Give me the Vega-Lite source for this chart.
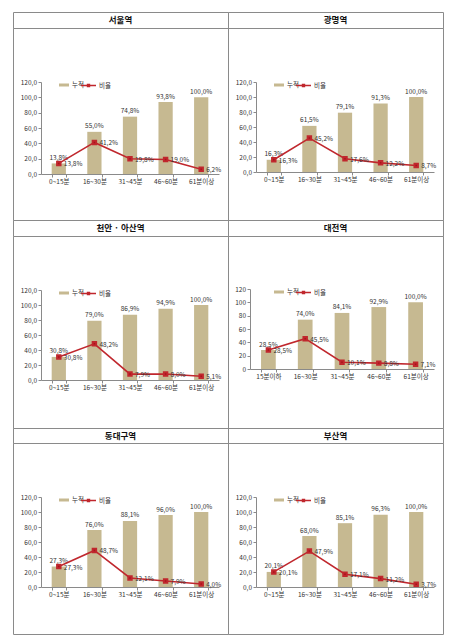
{
  "$schema": "https://vega.github.io/schema/vega-lite/v6.json",
  "background": "white",
  "padding": {"left": 12, "top": 11, "right": 0, "bottom": 0},
  "columns": 2,
  "spacing": 0,
  "bounds": "flush",
  "datasets": {
    "seoul": [
      {"band": "0~15분", "cum": 13.8, "ratio": 13.8},
      {"band": "16~30분", "cum": 55.0, "ratio": 41.2},
      {"band": "31~45분", "cum": 74.8, "ratio": 19.8},
      {"band": "46~60분", "cum": 93.8, "ratio": 19.0},
      {"band": "61분이상", "cum": 100.0, "ratio": 6.2}
    ],
    "gwangmyeong": [
      {"band": "0~15분", "cum": 16.3, "ratio": 16.3},
      {"band": "16~30분", "cum": 61.5, "ratio": 45.2},
      {"band": "31~45분", "cum": 79.1, "ratio": 17.6},
      {"band": "46~60분", "cum": 91.3, "ratio": 12.2},
      {"band": "61분이상", "cum": 100.0, "ratio": 8.7}
    ],
    "cheonan": [
      {"band": "0~15분", "cum": 30.8, "ratio": 30.8},
      {"band": "16~30분", "cum": 79.0, "ratio": 48.2},
      {"band": "31~45분", "cum": 86.9, "ratio": 7.9},
      {"band": "46~60분", "cum": 94.9, "ratio": 8.0},
      {"band": "61분이상", "cum": 100.0, "ratio": 5.1}
    ],
    "daejeon": [
      {"band": "15분이하", "cum": 28.5, "ratio": 28.5},
      {"band": "16~30분", "cum": 74.0, "ratio": 45.5},
      {"band": "31~45분", "cum": 84.1, "ratio": 10.1},
      {"band": "46~60분", "cum": 92.9, "ratio": 8.8},
      {"band": "61분이상", "cum": 100.0, "ratio": 7.1}
    ],
    "dongdaegu": [
      {"band": "0~15분", "cum": 27.3, "ratio": 27.3},
      {"band": "16~30분", "cum": 76.0, "ratio": 48.7},
      {"band": "31~45분", "cum": 88.1, "ratio": 12.1},
      {"band": "46~60분", "cum": 96.0, "ratio": 7.9},
      {"band": "61분이상", "cum": 100.0, "ratio": 4.0}
    ],
    "busan": [
      {"band": "0~15분", "cum": 20.1, "ratio": 20.1},
      {"band": "16~30분", "cum": 68.0, "ratio": 47.9},
      {"band": "31~45분", "cum": 85.1, "ratio": 17.1},
      {"band": "46~60분", "cum": 96.3, "ratio": 11.2},
      {"band": "61분이상", "cum": 100.0, "ratio": 3.7}
    ]
  },
  "resolve": {"scale": {"x": "independent", "y": "independent", "fill": "independent", "stroke": "independent"}, "legend": {"fill": "independent", "stroke": "independent"}, "axis": {"x": "independent", "y": "independent"}},
  "concat": [
    {"width": 215, "height": 16, "data": {"values": [{"station": "서울역"}]}, "mark": {"type": "text", "fontSize": 8.5, "fontWeight": "bold", "color": "#111"}, "encoding": {"text": {"field": "station"}, "x": {"datum": 0.5, "type": "quantitative", "scale": {"domain": [0, 1]}, "axis": null}, "y": {"datum": 0.5, "type": "quantitative", "scale": {"domain": [0, 1]}, "axis": null}}},
    {"width": 215, "height": 16, "data": {"values": [{"station": "광명역"}]}, "mark": {"type": "text", "fontSize": 8.5, "fontWeight": "bold", "color": "#111"}, "encoding": {"text": {"field": "station"}, "x": {"datum": 0.5, "type": "quantitative", "scale": {"domain": [0, 1]}, "axis": null}, "y": {"datum": 0.5, "type": "quantitative", "scale": {"domain": [0, 1]}, "axis": null}}},
    {
      "width": 215, "height": 192, "data": {"name": "seoul"},
      "encoding": {"x": {"field": "band", "type": "nominal", "sort": null, "title": null, "scale": {"range": [28, 206], "paddingInner": 0.6, "paddingOuter": 0.3}, "axis": {"offset": -46, "tickBand": "extent", "labelAngle": 0}}},
      "layer": [
        {"mark": {"type": "bar"}, "encoding": {
          "y": {"field": "cum", "type": "quantitative", "title": null, "scale": {"domain": [0, 120], "range": [146, 54], "nice": false}, "axis": {"offset": -28, "values": [0, 20, 40, 60, 80, 100, 120], "labelOverlap": false, "labelExpr": "replace(format(datum.value,'.1f'),'.',',')"}},
          "fill": {"datum": "누적", "scale": {"range": ["#C6B991"]}, "legend": {"legendX": 45, "legendY": 51, "symbolType": "M-1,-0.3H1V0.3H-1Z", "symbolSize": 100}}}},
        {"mark": {"type": "text", "baseline": "bottom", "dy": -2.5, "fontSize": 6.5, "color": "#333", "text": {"expr": "replace(format(datum.cum,'.1f'),'.',',') + '%'"}}, "encoding": {"y": {"field": "cum", "type": "quantitative", "title": null, "scale": {"domain": [0, 120], "range": [146, 54], "nice": false}, "axis": {"offset": -28, "values": [0, 20, 40, 60, 80, 100, 120], "labelOverlap": false, "labelExpr": "replace(format(datum.value,'.1f'),'.',',')"}}}},
        {"mark": {"type": "line", "strokeWidth": 1.6, "point": {"shape": "square", "size": 12, "filled": true, "color": "#A8121A"}}, "encoding": {
          "y": {"field": "ratio", "type": "quantitative", "title": null, "scale": {"domain": [0, 120], "range": [146, 54], "nice": false}, "axis": {"offset": -28, "values": [0, 20, 40, 60, 80, 100, 120], "labelOverlap": false, "labelExpr": "replace(format(datum.value,'.1f'),'.',',')"}},
          "stroke": {"datum": "비율", "scale": {"range": ["#C0272D"]}, "legend": {"legendX": 67, "legendY": 49, "symbolType": "M-1,0H1M-0.12,-0.12H0.12V0.12H-0.12Z", "symbolSize": 225, "symbolStrokeWidth": 1.6, "symbolFillColor": "#A8121A"}}}},
        {"mark": {"type": "text", "align": "left", "baseline": "middle", "dx": 5, "dy": 1, "fontSize": 6.5, "color": "#333", "text": {"expr": "replace(format(datum.ratio,'.1f'),'.',',') + '%'"}}, "encoding": {"y": {"field": "ratio", "type": "quantitative", "title": null, "scale": {"domain": [0, 120], "range": [146, 54], "nice": false}, "axis": {"offset": -28, "values": [0, 20, 40, 60, 80, 100, 120], "labelOverlap": false, "labelExpr": "replace(format(datum.value,'.1f'),'.',',')"}}}}
      ]
    },
    {
      "width": 215, "height": 192, "data": {"name": "gwangmyeong"},
      "encoding": {"x": {"field": "band", "type": "nominal", "sort": null, "title": null, "scale": {"range": [28, 206], "paddingInner": 0.6, "paddingOuter": 0.3}, "axis": {"offset": -48, "tickBand": "extent", "labelAngle": 0}}},
      "layer": [
        {"mark": {"type": "bar"}, "encoding": {
          "y": {"field": "cum", "type": "quantitative", "title": null, "scale": {"domain": [0, 120], "range": [144, 54], "nice": false}, "axis": {"offset": -28, "values": [0, 20, 40, 60, 80, 100, 120], "labelOverlap": false, "labelExpr": "replace(format(datum.value,'.1f'),'.',',')"}},
          "fill": {"datum": "누적", "scale": {"range": ["#C6B991"]}, "legend": {"legendX": 45, "legendY": 51, "symbolType": "M-1,-0.3H1V0.3H-1Z", "symbolSize": 100}}}},
        {"mark": {"type": "text", "baseline": "bottom", "dy": -2.5, "fontSize": 6.5, "color": "#333", "text": {"expr": "replace(format(datum.cum,'.1f'),'.',',') + '%'"}}, "encoding": {"y": {"field": "cum", "type": "quantitative", "title": null, "scale": {"domain": [0, 120], "range": [144, 54], "nice": false}, "axis": {"offset": -28, "values": [0, 20, 40, 60, 80, 100, 120], "labelOverlap": false, "labelExpr": "replace(format(datum.value,'.1f'),'.',',')"}}}},
        {"mark": {"type": "line", "strokeWidth": 1.6, "point": {"shape": "square", "size": 12, "filled": true, "color": "#A8121A"}}, "encoding": {
          "y": {"field": "ratio", "type": "quantitative", "title": null, "scale": {"domain": [0, 120], "range": [144, 54], "nice": false}, "axis": {"offset": -28, "values": [0, 20, 40, 60, 80, 100, 120], "labelOverlap": false, "labelExpr": "replace(format(datum.value,'.1f'),'.',',')"}},
          "stroke": {"datum": "비율", "scale": {"range": ["#C0272D"]}, "legend": {"legendX": 67, "legendY": 49, "symbolType": "M-1,0H1M-0.12,-0.12H0.12V0.12H-0.12Z", "symbolSize": 225, "symbolStrokeWidth": 1.6, "symbolFillColor": "#A8121A"}}}},
        {"mark": {"type": "text", "align": "left", "baseline": "middle", "dx": 5, "dy": 1, "fontSize": 6.5, "color": "#333", "text": {"expr": "replace(format(datum.ratio,'.1f'),'.',',') + '%'"}}, "encoding": {"y": {"field": "ratio", "type": "quantitative", "title": null, "scale": {"domain": [0, 120], "range": [144, 54], "nice": false}, "axis": {"offset": -28, "values": [0, 20, 40, 60, 80, 100, 120], "labelOverlap": false, "labelExpr": "replace(format(datum.value,'.1f'),'.',',')"}}}}
      ]
    },
    {"width": 215, "height": 16, "data": {"values": [{"station": "천안 · 아산역"}]}, "mark": {"type": "text", "fontSize": 8.5, "fontWeight": "bold", "color": "#111"}, "encoding": {"text": {"field": "station"}, "x": {"datum": 0.5, "type": "quantitative", "scale": {"domain": [0, 1]}, "axis": null}, "y": {"datum": 0.5, "type": "quantitative", "scale": {"domain": [0, 1]}, "axis": null}}},
    {"width": 215, "height": 16, "data": {"values": [{"station": "대전역"}]}, "mark": {"type": "text", "fontSize": 8.5, "fontWeight": "bold", "color": "#111"}, "encoding": {"text": {"field": "station"}, "x": {"datum": 0.5, "type": "quantitative", "scale": {"domain": [0, 1]}, "axis": null}, "y": {"datum": 0.5, "type": "quantitative", "scale": {"domain": [0, 1]}, "axis": null}}},
    {
      "width": 215, "height": 192, "data": {"name": "cheonan"},
      "encoding": {"x": {"field": "band", "type": "nominal", "sort": null, "title": null, "scale": {"range": [28, 206], "paddingInner": 0.6, "paddingOuter": 0.3}, "axis": {"offset": -48, "tickBand": "extent", "labelAngle": 0}}},
      "layer": [
        {"mark": {"type": "bar"}, "encoding": {
          "y": {"field": "cum", "type": "quantitative", "title": null, "scale": {"domain": [0, 120], "range": [144, 54], "nice": false}, "axis": {"offset": -28, "values": [0, 20, 40, 60, 80, 100, 120], "labelOverlap": false, "labelExpr": "replace(format(datum.value,'.1f'),'.',',')"}},
          "fill": {"datum": "누적", "scale": {"range": ["#C6B991"]}, "legend": {"legendX": 45, "legendY": 51, "symbolType": "M-1,-0.3H1V0.3H-1Z", "symbolSize": 100}}}},
        {"mark": {"type": "text", "baseline": "bottom", "dy": -2.5, "fontSize": 6.5, "color": "#333", "text": {"expr": "replace(format(datum.cum,'.1f'),'.',',') + '%'"}}, "encoding": {"y": {"field": "cum", "type": "quantitative", "title": null, "scale": {"domain": [0, 120], "range": [144, 54], "nice": false}, "axis": {"offset": -28, "values": [0, 20, 40, 60, 80, 100, 120], "labelOverlap": false, "labelExpr": "replace(format(datum.value,'.1f'),'.',',')"}}}},
        {"mark": {"type": "line", "strokeWidth": 1.6, "point": {"shape": "square", "size": 12, "filled": true, "color": "#A8121A"}}, "encoding": {
          "y": {"field": "ratio", "type": "quantitative", "title": null, "scale": {"domain": [0, 120], "range": [144, 54], "nice": false}, "axis": {"offset": -28, "values": [0, 20, 40, 60, 80, 100, 120], "labelOverlap": false, "labelExpr": "replace(format(datum.value,'.1f'),'.',',')"}},
          "stroke": {"datum": "비율", "scale": {"range": ["#C0272D"]}, "legend": {"legendX": 67, "legendY": 49, "symbolType": "M-1,0H1M-0.12,-0.12H0.12V0.12H-0.12Z", "symbolSize": 225, "symbolStrokeWidth": 1.6, "symbolFillColor": "#A8121A"}}}},
        {"mark": {"type": "text", "align": "left", "baseline": "middle", "dx": 5, "dy": 1, "fontSize": 6.5, "color": "#333", "text": {"expr": "replace(format(datum.ratio,'.1f'),'.',',') + '%'"}}, "encoding": {"y": {"field": "ratio", "type": "quantitative", "title": null, "scale": {"domain": [0, 120], "range": [144, 54], "nice": false}, "axis": {"offset": -28, "values": [0, 20, 40, 60, 80, 100, 120], "labelOverlap": false, "labelExpr": "replace(format(datum.value,'.1f'),'.',',')"}}}}
      ]
    },
    {
      "width": 215, "height": 192, "data": {"name": "daejeon"},
      "encoding": {"x": {"field": "band", "type": "nominal", "sort": null, "title": null, "scale": {"range": [22, 206], "paddingInner": 0.6, "paddingOuter": 0.3}, "axis": {"offset": -59, "tickBand": "extent", "labelAngle": 0}}},
      "layer": [
        {"mark": {"type": "bar"}, "encoding": {
          "y": {"field": "cum", "type": "quantitative", "title": null, "scale": {"domain": [0, 120], "range": [133, 53], "nice": false}, "axis": {"offset": -22, "values": [0, 20, 40, 60, 80, 100, 120], "labelOverlap": false}},
          "fill": {"datum": "누적", "scale": {"range": ["#C6B991"]}, "legend": {"legendX": 45, "legendY": 50, "symbolType": "M-1,-0.3H1V0.3H-1Z", "symbolSize": 100}}}},
        {"mark": {"type": "text", "baseline": "bottom", "dy": -2.5, "fontSize": 6.5, "color": "#333", "text": {"expr": "replace(format(datum.cum,'.1f'),'.',',') + '%'"}}, "encoding": {"y": {"field": "cum", "type": "quantitative", "title": null, "scale": {"domain": [0, 120], "range": [133, 53], "nice": false}, "axis": {"offset": -22, "values": [0, 20, 40, 60, 80, 100, 120], "labelOverlap": false}}}},
        {"mark": {"type": "line", "strokeWidth": 1.6, "point": {"shape": "square", "size": 12, "filled": true, "color": "#A8121A"}}, "encoding": {
          "y": {"field": "ratio", "type": "quantitative", "title": null, "scale": {"domain": [0, 120], "range": [133, 53], "nice": false}, "axis": {"offset": -22, "values": [0, 20, 40, 60, 80, 100, 120], "labelOverlap": false}},
          "stroke": {"datum": "비율", "scale": {"range": ["#C0272D"]}, "legend": {"legendX": 67, "legendY": 48, "symbolType": "M-1,0H1M-0.12,-0.12H0.12V0.12H-0.12Z", "symbolSize": 225, "symbolStrokeWidth": 1.6, "symbolFillColor": "#A8121A"}}}},
        {"mark": {"type": "text", "align": "left", "baseline": "middle", "dx": 5, "dy": 1, "fontSize": 6.5, "color": "#333", "text": {"expr": "replace(format(datum.ratio,'.1f'),'.',',') + '%'"}}, "encoding": {"y": {"field": "ratio", "type": "quantitative", "title": null, "scale": {"domain": [0, 120], "range": [133, 53], "nice": false}, "axis": {"offset": -22, "values": [0, 20, 40, 60, 80, 100, 120], "labelOverlap": false}}}}
      ]
    },
    {"width": 215, "height": 15, "data": {"values": [{"station": "동대구역"}]}, "mark": {"type": "text", "fontSize": 8.5, "fontWeight": "bold", "color": "#111"}, "encoding": {"text": {"field": "station"}, "x": {"datum": 0.5, "type": "quantitative", "scale": {"domain": [0, 1]}, "axis": null}, "y": {"datum": 0.5, "type": "quantitative", "scale": {"domain": [0, 1]}, "axis": null}}},
    {"width": 215, "height": 15, "data": {"values": [{"station": "부산역"}]}, "mark": {"type": "text", "fontSize": 8.5, "fontWeight": "bold", "color": "#111"}, "encoding": {"text": {"field": "station"}, "x": {"datum": 0.5, "type": "quantitative", "scale": {"domain": [0, 1]}, "axis": null}, "y": {"datum": 0.5, "type": "quantitative", "scale": {"domain": [0, 1]}, "axis": null}}},
    {
      "width": 215, "height": 191, "data": {"name": "dongdaegu"},
      "encoding": {"x": {"field": "band", "type": "nominal", "sort": null, "title": null, "scale": {"range": [28, 206], "paddingInner": 0.6, "paddingOuter": 0.3}, "axis": {"offset": -47, "tickBand": "extent", "labelAngle": 0}}},
      "layer": [
        {"mark": {"type": "bar"}, "encoding": {
          "y": {"field": "cum", "type": "quantitative", "title": null, "scale": {"domain": [0, 120], "range": [144, 54], "nice": false}, "axis": {"offset": -28, "values": [0, 20, 40, 60, 80, 100, 120], "labelOverlap": false, "labelExpr": "replace(format(datum.value,'.1f'),'.',',')"}},
          "fill": {"datum": "누적", "scale": {"range": ["#C6B991"]}, "legend": {"legendX": 45, "legendY": 51, "symbolType": "M-1,-0.3H1V0.3H-1Z", "symbolSize": 100}}}},
        {"mark": {"type": "text", "baseline": "bottom", "dy": -2.5, "fontSize": 6.5, "color": "#333", "text": {"expr": "replace(format(datum.cum,'.1f'),'.',',') + '%'"}}, "encoding": {"y": {"field": "cum", "type": "quantitative", "title": null, "scale": {"domain": [0, 120], "range": [144, 54], "nice": false}, "axis": {"offset": -28, "values": [0, 20, 40, 60, 80, 100, 120], "labelOverlap": false, "labelExpr": "replace(format(datum.value,'.1f'),'.',',')"}}}},
        {"mark": {"type": "line", "strokeWidth": 1.6, "point": {"shape": "square", "size": 12, "filled": true, "color": "#A8121A"}}, "encoding": {
          "y": {"field": "ratio", "type": "quantitative", "title": null, "scale": {"domain": [0, 120], "range": [144, 54], "nice": false}, "axis": {"offset": -28, "values": [0, 20, 40, 60, 80, 100, 120], "labelOverlap": false, "labelExpr": "replace(format(datum.value,'.1f'),'.',',')"}},
          "stroke": {"datum": "비율", "scale": {"range": ["#C0272D"]}, "legend": {"legendX": 67, "legendY": 49, "symbolType": "M-1,0H1M-0.12,-0.12H0.12V0.12H-0.12Z", "symbolSize": 225, "symbolStrokeWidth": 1.6, "symbolFillColor": "#A8121A"}}}},
        {"mark": {"type": "text", "align": "left", "baseline": "middle", "dx": 5, "dy": 1, "fontSize": 6.5, "color": "#333", "text": {"expr": "replace(format(datum.ratio,'.1f'),'.',',') + '%'"}}, "encoding": {"y": {"field": "ratio", "type": "quantitative", "title": null, "scale": {"domain": [0, 120], "range": [144, 54], "nice": false}, "axis": {"offset": -28, "values": [0, 20, 40, 60, 80, 100, 120], "labelOverlap": false, "labelExpr": "replace(format(datum.value,'.1f'),'.',',')"}}}}
      ]
    },
    {
      "width": 215, "height": 191, "data": {"name": "busan"},
      "encoding": {"x": {"field": "band", "type": "nominal", "sort": null, "title": null, "scale": {"range": [28, 206], "paddingInner": 0.6, "paddingOuter": 0.3}, "axis": {"offset": -47, "tickBand": "extent", "labelAngle": 0}}},
      "layer": [
        {"mark": {"type": "bar"}, "encoding": {
          "y": {"field": "cum", "type": "quantitative", "title": null, "scale": {"domain": [0, 120], "range": [144, 54], "nice": false}, "axis": {"offset": -28, "values": [0, 20, 40, 60, 80, 100, 120], "labelOverlap": false, "labelExpr": "replace(format(datum.value,'.1f'),'.',',')"}},
          "fill": {"datum": "누적", "scale": {"range": ["#C6B991"]}, "legend": {"legendX": 45, "legendY": 51, "symbolType": "M-1,-0.3H1V0.3H-1Z", "symbolSize": 100}}}},
        {"mark": {"type": "text", "baseline": "bottom", "dy": -2.5, "fontSize": 6.5, "color": "#333", "text": {"expr": "replace(format(datum.cum,'.1f'),'.',',') + '%'"}}, "encoding": {"y": {"field": "cum", "type": "quantitative", "title": null, "scale": {"domain": [0, 120], "range": [144, 54], "nice": false}, "axis": {"offset": -28, "values": [0, 20, 40, 60, 80, 100, 120], "labelOverlap": false, "labelExpr": "replace(format(datum.value,'.1f'),'.',',')"}}}},
        {"mark": {"type": "line", "strokeWidth": 1.6, "point": {"shape": "square", "size": 12, "filled": true, "color": "#A8121A"}}, "encoding": {
          "y": {"field": "ratio", "type": "quantitative", "title": null, "scale": {"domain": [0, 120], "range": [144, 54], "nice": false}, "axis": {"offset": -28, "values": [0, 20, 40, 60, 80, 100, 120], "labelOverlap": false, "labelExpr": "replace(format(datum.value,'.1f'),'.',',')"}},
          "stroke": {"datum": "비율", "scale": {"range": ["#C0272D"]}, "legend": {"legendX": 67, "legendY": 49, "symbolType": "M-1,0H1M-0.12,-0.12H0.12V0.12H-0.12Z", "symbolSize": 225, "symbolStrokeWidth": 1.6, "symbolFillColor": "#A8121A"}}}},
        {"mark": {"type": "text", "align": "left", "baseline": "middle", "dx": 5, "dy": 1, "fontSize": 6.5, "color": "#333", "text": {"expr": "replace(format(datum.ratio,'.1f'),'.',',') + '%'"}}, "encoding": {"y": {"field": "ratio", "type": "quantitative", "title": null, "scale": {"domain": [0, 120], "range": [144, 54], "nice": false}, "axis": {"offset": -28, "values": [0, 20, 40, 60, 80, 100, 120], "labelOverlap": false, "labelExpr": "replace(format(datum.value,'.1f'),'.',',')"}}}}
      ]
    }
  ],
  "config": {
    "font": "Noto Sans CJK KR",
    "view": {"stroke": "#8a8a8a", "strokeWidth": 1},
    "axis": {"labelFontSize": 6.5, "labelColor": "#333", "domainColor": "#8a8a8a", "tickColor": "#8a8a8a", "tickSize": 3, "grid": false, "labelPadding": 1.5, "labelOverlap": false, "labelBound": false},
    "legend": {"orient": "none", "labelFontSize": 6.5, "labelColor": "#333", "padding": 0, "title": null, "labelOffset": 2}
  }
}
